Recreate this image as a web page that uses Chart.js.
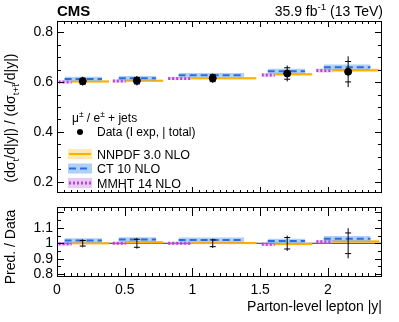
<!DOCTYPE html>
<html><head><meta charset="utf-8">
<script src="https://cdn.jsdelivr.net/npm/chart.js@4.4.0/dist/chart.umd.min.js"></script>
<style>
html,body{margin:0;padding:0;background:#fff;}
#wrap{position:relative;width:399px;height:322px;overflow:hidden;}
canvas{position:absolute;left:0;}
#top{top:0;} #bot{top:195px;}
.fr{position:absolute;box-sizing:border-box;border:1px solid #000;pointer-events:none;}
.tk{position:absolute;background:#000;pointer-events:none;}
</style></head><body>
<div id="wrap"><canvas id="top" width="399" height="205"></canvas><canvas id="bot" width="399" height="127"></canvas></div>
<script>
const FONT = '"Liberation Sans", Arial, Helvetica, sans-serif';

// bins in parton-level lepton |y|
const EDGES = [0, 0.4, 0.8, 1.5, 1.9, 2.4];
const DATA_X = [0.19, 0.59, 1.15, 1.70, 2.15];

// upper panel: ratio of cross sections
const DATA_Y = [0.604, 0.606, 0.616, 0.635, 0.642];
const DATA_TOT = [0.018, 0.019, 0.019, 0.032, 0.062];
const DATA_EXP = [0.012, 0.013, 0.014, 0.023, 0.041];
const NNPDF = [0.603, 0.606, 0.616, 0.632, 0.648];
const NNPDF_UNC = [0.005, 0.005, 0.005, 0.006, 0.007];
const CT10 = [0.613, 0.616, 0.628, 0.644, 0.660];
const CT10_UNC = [0.009, 0.009, 0.009, 0.010, 0.011];
const MMHT = [0.601, 0.605, 0.615, 0.629, 0.647];
const MMHT_UNC = [0.006, 0.006, 0.006, 0.007, 0.008];

// lower panel: prediction / data
const RATIO_TOT = [0.026, 0.035, 0.030, 0.050, 0.098];
const RATIO_EXP = [0.018, 0.026, 0.022, 0.037, 0.067];
const NNPDF_R = [1.000, 1.006, 1.002, 0.996, 1.012];
const NNPDF_R_UNC = [0.008, 0.008, 0.008, 0.009, 0.011];
const CT10_R = [1.018, 1.024, 1.022, 1.014, 1.030];
const CT10_R_UNC = [0.015, 0.015, 0.015, 0.016, 0.017];
const MMHT_R = [0.996, 1.000, 1.000, 0.994, 1.010];
const MMHT_R_UNC = [0.010, 0.010, 0.010, 0.011, 0.012];

const X_TICKS = [0, 0.5, 1, 1.5, 2];
const Y_TICKS_TOP = [0.2, 0.4, 0.6, 0.8];
const Y_TICKS_BOT = [0.8, 0.9, 1, 1.1];

const STYLES = {
  mmht:  { color: '#c23fd6', band: 'rgba(205,150,235,0.5)', dash: [2, 2], width: 3, span: [0.03, 0.27], order: 50 },
  nnpdf: { color: '#ffb000', band: 'rgba(255,205,90,0.45)', dash: [], width: 2, span: [0.27, 0.96], order: 30 },
  ct10:  { color: '#2a6fe0', band: 'rgba(110,170,240,0.55)', dash: [7, 4], width: 2, span: [0.14, 0.83], order: 10 },
};

function predDatasets(vals, unc, st) {
  const out = [];
  vals.forEach((v, i) => {
    const lo = EDGES[i], w = EDGES[i + 1] - EDGES[i];
    const a = lo + st.span[0] * w, b = lo + st.span[1] * w;
    out.push({ data: [{ x: a, y: v + unc[i] }, { x: b, y: v + unc[i] }], fill: '+1', backgroundColor: st.band,
      borderWidth: 0, pointRadius: 0, order: st.order + 5 });
    out.push({ data: [{ x: a, y: v - unc[i] }, { x: b, y: v - unc[i] }], fill: false, borderWidth: 0, pointRadius: 0, order: st.order + 5 });
    out.push({ data: [{ x: a, y: v }, { x: b, y: v }], fill: false, borderColor: st.color, borderWidth: st.width,
      borderDash: st.dash, borderCapStyle: 'butt', pointRadius: 0, order: st.order });
  });
  return out;
}

function errDatasets(ys, tot, exp, markers) {
  const out = [];
  ys.forEach((v, i) => {
    out.push({ data: [{ x: DATA_X[i], y: v - tot[i] }, { x: DATA_X[i], y: v + tot[i] }], borderColor: '#000', borderWidth: 1, pointRadius: 0, fill: false, order: 2 });
    out.push({ data: [{ x: DATA_X[i], y: v - exp[i] }, { x: DATA_X[i], y: v + exp[i] }], showLine: false, pointStyle: 'line',
      pointRadius: 3, borderColor: '#000', pointBorderWidth: 1, order: 1 });
  });
  if (markers) {
    out.push({ data: ys.map((v, i) => ({ x: DATA_X[i], y: v })), showLine: false, pointStyle: 'circle', pointRadius: 3.5,
      backgroundColor: '#000', borderColor: '#000', order: 0 });
  }
  return out;
}

// frame box from the scales themselves
function frameBox(chart) {
  const x = chart.scales.x, y = chart.scales.y;
  return {
    L: Math.round(x.getPixelForValue(x.min)), R: Math.round(x.getPixelForValue(x.max)),
    T: Math.round(y.getPixelForValue(y.max)), B: Math.round(y.getPixelForValue(y.min)),
  };
}

// list of tick marks (rects) for a ROOT-like frame with inward ticks on all sides
function tickRects(chart, o) {
  const x = chart.scales.x, y = chart.scales.y;
  const { L, R, T, B } = frameBox(chart);
  const out = [];
  for (let k = Math.ceil(x.min / o.xMinor - 1e-6); k <= Math.floor(x.max / o.xMinor + 1e-6); k++) {
    const v = k * o.xMinor;
    const major = Math.abs(v / o.xMajor - Math.round(v / o.xMajor)) < 1e-6;
    const len = major ? o.xLen[0] : o.xLen[1];
    const px = Math.min(R - 1, Math.round(x.getPixelForValue(v)));
    out.push([px, B - len, 1, len], [px, T, 1, len]);
  }
  for (let k = Math.ceil(y.min / o.yMinor - 1e-6); k <= Math.floor(y.max / o.yMinor + 1e-6); k++) {
    const v = k * o.yMinor;
    const major = Math.abs(v / o.yMajor - Math.round(v / o.yMajor)) < 1e-6;
    const len = major ? o.yLen[0] : o.yLen[1];
    const py = Math.min(B - 1, Math.round(y.getPixelForValue(v)));
    out.push([L, py, len, 1], [R - len, py, len, 1]);
  }
  return out;
}

// overlay the frame and ticks as page elements above the canvas
function overlayFrame(chart, offsetTop, o) {
  const wrap = document.getElementById('wrap');
  const { L, R, T, B } = frameBox(chart);
  const fr = document.createElement('div');
  fr.className = 'fr';
  Object.assign(fr.style, { left: L + 'px', top: (T + offsetTop) + 'px', width: (R - L) + 'px', height: (B - T) + 'px' });
  wrap.appendChild(fr);
  tickRects(chart, o).forEach(([tx, ty, w, h]) => {
    const d = document.createElement('div');
    d.className = 'tk';
    Object.assign(d.style, { left: tx + 'px', top: (ty + offsetTop) + 'px', width: w + 'px', height: h + 'px' });
    wrap.appendChild(d);
  });
}

// draws a run of text pieces; sub/sup pieces are smaller and shifted
function richWidth(ctx, parts, size) {
  let w = 0;
  parts.forEach(p => { ctx.font = (p.s ? size * 0.7 : size) + 'px ' + FONT; w += ctx.measureText(p.t).width; });
  return w;
}
function drawRich(ctx, parts, x, y, size) {
  let cx = x;
  parts.forEach(p => {
    const fs = p.s ? size * 0.7 : size;
    ctx.font = fs + 'px ' + FONT;
    const dy = p.s === 'sub' ? size * 0.3 : p.s === 'sup' ? -size * 0.4 : 0;
    ctx.fillText(p.t, cx, y + dy);
    cx += ctx.measureText(p.t).width;
  });
}

const topDecor = {
  id: 'topDecor',
  afterDraw(chart) {
    const ctx = chart.ctx;
    ctx.save();
    ctx.fillStyle = '#000';
    ctx.textBaseline = 'alphabetic';
    ctx.textAlign = 'left';
    ctx.font = 'bold 15px ' + FONT;
    ctx.fillText('CMS', 57, 16);
    const lumi = [{ t: '35.9 fb' }, { t: '-1', s: 'sup' }, { t: ' (13 TeV)' }];
    drawRich(ctx, lumi, 383 - richWidth(ctx, lumi, 14), 16, 14);

    // y title
    const yt = [{ t: '(d\u03c3' }, { t: 't', s: 'sub' }, { t: '/d|y|) / (d\u03c3' }, { t: 't+t\u0304', s: 'sub' }, { t: '/d|y|)' }];
    ctx.save();
    ctx.translate(15, 118); ctx.rotate(-Math.PI / 2);
    drawRich(ctx, yt, -richWidth(ctx, yt, 14) / 2, 0, 14);
    ctx.restore();

    // legend
    const mu = [{ t: '\u03bc' }, { t: '\u00b1', s: 'sup' }, { t: ' / e' }, { t: '\u00b1', s: 'sup' }, { t: ' + jets' }];
    drawRich(ctx, mu, 72, 122, 12);
    ctx.beginPath(); ctx.arc(80, 132, 3, 0, Math.PI * 2); ctx.fill();
    drawRich(ctx, [{ t: 'Data (I exp, | total)' }], 97, 136, 12);
    const rows = [['NNPDF 3.0 NLO', STYLES.nnpdf, 154], ['CT 10 NLO', STYLES.ct10, 168.5], ['MMHT 14 NLO', STYLES.mmht, 183]];
    rows.forEach(([label, st, yy]) => {
      ctx.fillStyle = st.band; ctx.fillRect(68, yy - 5, 24, 10);
      ctx.strokeStyle = st.color; ctx.lineWidth = st.width; ctx.setLineDash(st.dash);
      ctx.beginPath(); ctx.moveTo(69, yy); ctx.lineTo(91, yy); ctx.stroke();
      ctx.setLineDash([]);
      ctx.fillStyle = '#000';
      drawRich(ctx, [{ t: label }], 97, yy + 4.5, 12.5);
    });
    ctx.restore();
  }
};

const botDecor = {
  id: 'botDecor',
  afterDraw(chart) {
    const ctx = chart.ctx;
    ctx.save();
    ctx.fillStyle = '#000';
    ctx.translate(15, 52); ctx.rotate(-Math.PI / 2);
    ctx.font = '14px ' + FONT; ctx.textAlign = 'center';
    ctx.fillText('Pred. / Data', 0, 0);
    ctx.restore();
  }
};

function baseScales(yMin, yMax, yTicks, yFmt, xShow) {
  return {
    x: {
      type: 'linear', min: 0, max: 2.4, display: xShow,
      grid: { display: false, drawTicks: false, tickLength: 0 }, border: { display: false },
      afterBuildTicks: s => { s.ticks = X_TICKS.map(v => ({ value: v })); },
      afterFit: s => { s.height = xShow ? 45 : 0; },
      ticks: { font: { family: FONT, size: 14 }, color: '#000', padding: 5, maxRotation: 0, callback: v => String(v) },
      title: { display: xShow, text: 'Parton-level lepton |y|', align: 'end', color: '#000', font: { family: FONT, size: 14 }, padding: { top: 0, bottom: 6 } },
    },
    y: {
      min: yMin, max: yMax,
      grid: { display: false, drawTicks: false, tickLength: 0 }, border: { display: false },
      afterBuildTicks: s => { s.ticks = yTicks.map(v => ({ value: v })); },
      afterFit: s => { s.width = 57; },
      ticks: { font: { family: FONT, size: 14 }, color: '#000', padding: 4, callback: yFmt },
    },
  };
}

const common = { responsive: false, animation: false, events: [] };

const topChart = new Chart(document.getElementById('top'), {
  type: 'line',
  data: { datasets: [
    ...predDatasets(MMHT, MMHT_UNC, STYLES.mmht),
    ...predDatasets(NNPDF, NNPDF_UNC, STYLES.nnpdf),
    ...predDatasets(CT10, CT10_UNC, STYLES.ct10),
    ...errDatasets(DATA_Y, DATA_TOT, DATA_EXP, true),
  ] },
  options: {
    ...common,
    layout: { padding: { top: 21, right: 17, bottom: 3, left: 0 } },
    scales: baseScales(0.156, 0.846, Y_TICKS_TOP, v => v.toFixed(1), false),
    plugins: { legend: { display: false }, tooltip: { enabled: false } },
  },
  plugins: [topDecor],
});

const botChart = new Chart(document.getElementById('bot'), {
  type: 'line',
  data: { datasets: [
    { data: [{ x: 0, y: 1 }, { x: 2.4, y: 1 }], borderColor: '#333', borderWidth: 1, pointRadius: 0, fill: false, order: 100 },
    ...predDatasets(MMHT_R, MMHT_R_UNC, STYLES.mmht),
    ...predDatasets(NNPDF_R, NNPDF_R_UNC, STYLES.nnpdf),
    ...predDatasets(CT10_R, CT10_R_UNC, STYLES.ct10),
    ...errDatasets(DATA_X.map(() => 1), RATIO_TOT, RATIO_EXP, false),
  ] },
  options: {
    ...common,
    layout: { padding: { top: 7, right: 17, bottom: 0, left: 0 } },
    scales: baseScales(0.781, 1.233, Y_TICKS_BOT, v => (v === 1 ? '1' : v.toFixed(1)), true),
    plugins: { legend: { display: false }, tooltip: { enabled: false } },
  },
  plugins: [botDecor],
});

overlayFrame(topChart, 0, { xMajor: 0.5, xMinor: 0.05, yMajor: 0.2, yMinor: 0.05, xLen: [6, 3], yLen: [7, 4] });
overlayFrame(botChart, 195, { xMajor: 0.5, xMinor: 0.05, yMajor: 0.1, yMinor: 0.05, xLen: [9, 4], yLen: [7, 4] });
</script>
</body></html>
